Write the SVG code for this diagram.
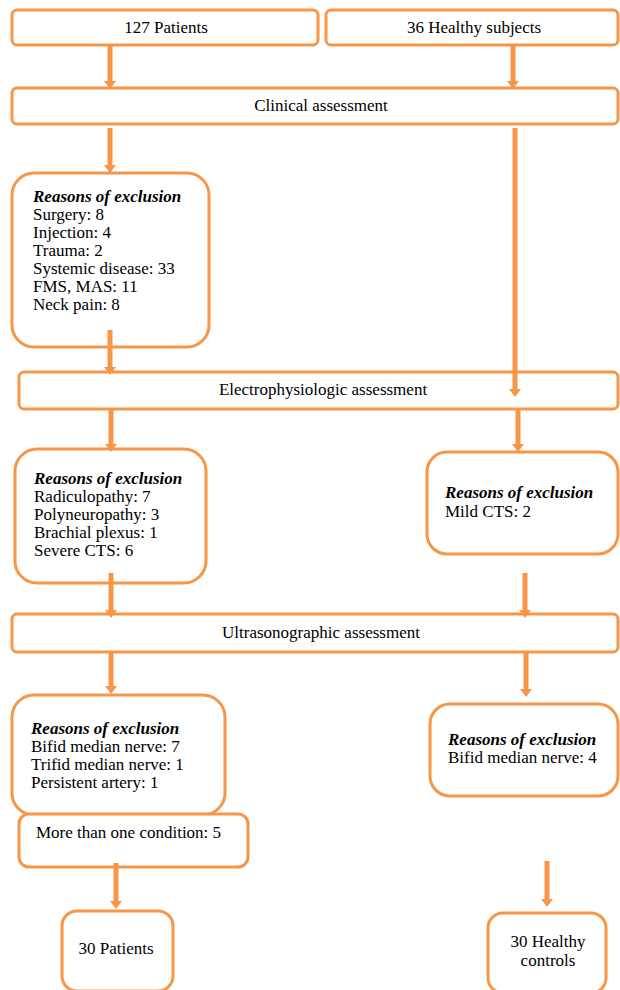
<svg xmlns="http://www.w3.org/2000/svg" width="620" height="990" viewBox="0 0 620 990">
<style>
.box{fill:#fff;stroke:#F79646;stroke-width:3}
.t{font-family:'Liberation Serif','Times New Roman',serif;font-size:17px;fill:#000}
.m{text-anchor:middle}
.h{font-weight:bold;font-style:italic}
.c{stroke:#F79646;stroke-width:5;fill:none;marker-end:url(#ah)}
</style>
<defs>
<marker id="ah" markerUnits="userSpaceOnUse" markerWidth="8" markerHeight="12" refX="2" refY="6" orient="auto" viewBox="0 0 8 12">
<path d="M0,0 L8,6 L0,12 Z" fill="#F79646"/>
</marker>
</defs>
<rect width="620" height="990" fill="#fff"/>
<g id="n-patients"><rect class="box" x="12" y="10" width="306" height="35" rx="5"/><text class="t m" x="166" y="33">127 Patients</text></g>
<g id="n-healthy"><rect class="box" x="326" y="10" width="292" height="35" rx="5"/><text class="t m" x="474" y="33">36 Healthy subjects</text></g>
<g id="n-clinical"><rect class="box" x="12" y="88" width="606" height="36" rx="5"/><text class="t m" x="321" y="111">Clinical assessment</text></g>
<g id="n-excl1"><rect class="box" x="12" y="173" width="197" height="174" rx="22"/>
<text class="t" x="33" y="202"><tspan class="h">Reasons of exclusion</tspan><tspan x="33" y="220">Surgery: 8</tspan><tspan x="33" y="238">Injection: 4</tspan><tspan x="33" y="256">Trauma: 2</tspan><tspan x="33" y="274">Systemic disease: 33</tspan><tspan x="33" y="292">FMS, MAS: 11</tspan><tspan x="33" y="310">Neck pain: 8</tspan></text></g>
<g id="n-electro"><rect class="box" x="19" y="372" width="599" height="37" rx="5"/><text class="t m" x="323" y="395">Electrophysiologic assessment</text></g>
<g id="n-excl2"><rect class="box" x="15" y="449" width="191" height="134" rx="22"/>
<text class="t" x="34" y="484"><tspan class="h">Reasons of exclusion</tspan><tspan x="34" y="502">Radiculopathy: 7</tspan><tspan x="34" y="520">Polyneuropathy: 3</tspan><tspan x="34" y="538">Brachial plexus: 1</tspan><tspan x="34" y="556">Severe CTS: 6</tspan></text></g>
<g id="n-excl2r"><rect class="box" x="427" y="452" width="191" height="102" rx="20"/>
<text class="t" x="445" y="498"><tspan class="h">Reasons of exclusion</tspan><tspan x="445" y="517">Mild CTS: 2</tspan></text></g>
<g id="n-ultra"><rect class="box" x="12" y="614" width="606" height="38" rx="5"/><text class="t m" x="321" y="638">Ultrasonographic assessment</text></g>
<g id="n-excl3"><rect class="box" x="12" y="695" width="213" height="120" rx="22"/>
<text class="t" x="31" y="734"><tspan class="h">Reasons of exclusion</tspan><tspan x="31" y="752">Bifid median nerve: 7</tspan><tspan x="31" y="770">Trifid median nerve: 1</tspan><tspan x="31" y="788">Persistent artery: 1</tspan></text></g>
<g id="n-more"><rect class="box" x="19" y="814" width="229" height="53" rx="10"/><text class="t" x="36" y="838">More than one condition: 5</text></g>
<g id="n-excl3r"><rect class="box" x="430" y="704" width="188" height="92" rx="20"/>
<text class="t" x="448" y="745"><tspan class="h">Reasons of exclusion</tspan><tspan x="448" y="763">Bifid median nerve: 4</tspan></text></g>
<g id="n-final-p"><rect class="box" x="62" y="911" width="111" height="80" rx="15"/><text class="t m" x="116" y="954">30 Patients</text></g>
<g id="n-final-h"><rect class="box" x="488" y="913" width="118" height="80" rx="15"/><text class="t m" x="548" y="947">30 Healthy<tspan x="548" y="966">controls</tspan></text></g>
<g id="connectors">
<line class="c" x1="110" y1="45" x2="110" y2="83"/>
<line class="c" x1="513" y1="45" x2="513" y2="83"/>
<line class="c" x1="110" y1="128" x2="110" y2="167"/>
<line class="c" x1="515" y1="128" x2="515" y2="391"/>
<line class="c" x1="110" y1="330" x2="110" y2="369"/>
<line class="c" x1="111" y1="410" x2="111" y2="446"/>
<line class="c" x1="518" y1="410" x2="518" y2="446"/>
<line class="c" x1="111" y1="573" x2="111" y2="612"/>
<line class="c" x1="525" y1="573" x2="525" y2="612"/>
<line class="c" x1="111" y1="652" x2="111" y2="688"/>
<line class="c" x1="526" y1="652" x2="526" y2="691"/>
<line class="c" x1="116" y1="863" x2="116" y2="903"/>
<line class="c" x1="547" y1="861" x2="547" y2="901"/>
</g>
</svg>
